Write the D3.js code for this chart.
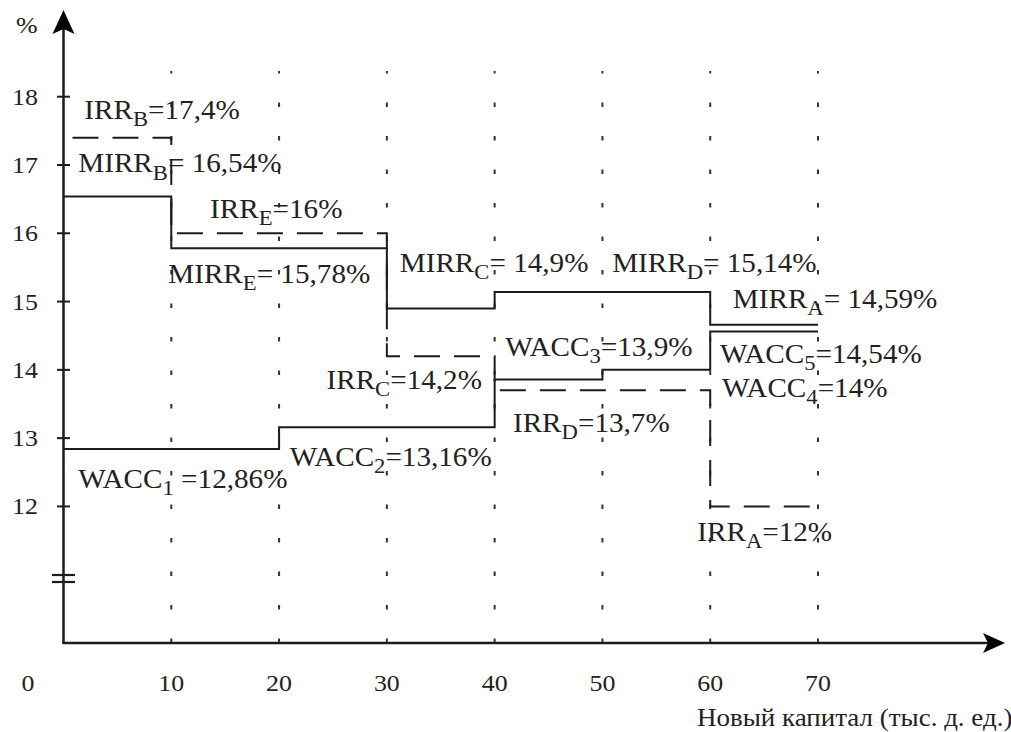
<!DOCTYPE html>
<html><head><meta charset="utf-8">
<script src="https://cdn.jsdelivr.net/npm/d3@7"></script>
<style>
body{margin:0;background:#fff}
svg{display:block}
text{font-family:"Liberation Serif","Times New Roman",serif;fill:#222;white-space:pre}
</style>
</head><body>
<svg id="c" width="1011" height="732"></svg>
<script>
// ---- data ----
const xTicks = [0,10,20,30,40,50,60,70];
const yTicks = [12,13,14,15,16,17,18];
const irrX = [0,10,30,40,60,70];
const irrValues = [17.4,16,14.2,13.7,12,12];
const mirrX = [0,10,30,40,60,70];
const mirrValues = [16.54,15.78,14.9,15.14,14.66,14.66];
const waccX = [0,20,40,50,60,70];
const waccValues = [12.84,13.16,13.86,14,14.56,14.56];
const labelMain = ["IRR","MIRR","IRR","MIRR","MIRR","MIRR","MIRR","WACC","WACC","IRR","WACC","IRR","WACC","WACC","IRR"];
const labelSub  = ["B","B","E","E","C","D","A","3","5","C","4","D","2","1","A"];
const labelRest = ["=17,4%","= 16,54%","=16%","= 15,78%","= 14,9%","= 15,14%","= 14,59%","=13,9%","=14,54%","=14,2%","=14%","=13,7%","=13,16%"," =12,86%","=12%"];
const labelAtX  = [1.93,1.37,13.6,9.72,31.2,50.9,62.1,40.98,60.9,24.4,61.1,41.7,21.0,1.37,58.8];
const labelAtY  = [17.68,16.89,16.22,15.27,15.43,15.43,14.9,14.21,14.1,13.72,13.6,13.09,12.59,12.27,11.49];
const yTitle = "%";
const xTitle = "Новый капитал (тыс. д. ед.)";

// ---- drawing ----
const svg = d3.select("#c");
const ink = "#1c1c1c";
const sx = 1.08;
const x = d3.scaleLinear().domain([0,70]).range([63.5,818]);
const y = d3.scaleLinear().domain([10,18]).range([643,96.7]);

// grid (dotted vertical)
svg.append("g").selectAll("line").data(xTicks.slice(1)).join("line")
  .attr("x1",d=>x(d)).attr("x2",d=>x(d)).attr("y1",y(10)).attr("y2",71)
  .attr("stroke","#333").attr("stroke-width",2).attr("stroke-dasharray","4.5,29");

// axes
svg.append("line").attr("x1",x(0)).attr("x2",x(0)).attr("y1",y(10)+1).attr("y2",28)
  .attr("stroke",ink).attr("stroke-width",2.5);
svg.append("line").attr("x1",x(0)-1).attr("x2",990).attr("y1",y(10)).attr("y2",y(10))
  .attr("stroke",ink).attr("stroke-width",2.5);
svg.append("path").attr("d",`M${x(0)},10 L${x(0)+11},34 L${x(0)},29 L${x(0)-11},34 Z`).attr("fill","#000");
svg.append("path").attr("d",`M1005,${y(10)} L983,${y(10)-10} L988,${y(10)} L983,${y(10)+10} Z`).attr("fill","#000");

// y ticks
svg.append("g").selectAll("line").data(yTicks).join("line")
  .attr("x1",57).attr("x2",70).attr("y1",d=>y(d)).attr("y2",d=>y(d))
  .attr("stroke",ink).attr("stroke-width",2);
// axis break
svg.append("g").selectAll("line").data([0,7]).join("line")
  .attr("x1",52).attr("x2",75).attr("y1",d=>575+d).attr("y2",d=>575+d)
  .attr("stroke",ink).attr("stroke-width",2.2);

function txt(px,py,str,size,anchor){
  return svg.append("text").attr("transform",`translate(${px},${py}) scale(${sx},1)`)
    .attr("font-size",size).attr("text-anchor",anchor||"start").text(str);
}
// y tick labels
yTicks.forEach(v=>txt(38,y(v)+8,String(v),24,"end"));
// x tick labels
xTicks.forEach(v=>txt(v===0?28:x(v),691,String(v),24,"middle"));
txt(16,33,yTitle,24,"start");
txt(697,726,xTitle,25,"start");

// step lines
const line = d3.line().x(d=>x(d[0])).y(d=>y(d[1])).curve(d3.curveStepAfter);
svg.append("path").attr("d",line(irrX.map((v,i)=>[v,irrValues[i]])))
  .attr("fill","none").attr("stroke",ink).attr("stroke-width",2)
  .attr("stroke-dasharray","26,14").attr("stroke-dashoffset",31);
svg.append("path").attr("d",line(mirrX.map((v,i)=>[v,mirrValues[i]])))
  .attr("fill","none").attr("stroke",ink).attr("stroke-width",2);
svg.append("path").attr("d",line(waccX.map((v,i)=>[v,waccValues[i]])))
  .attr("fill","none").attr("stroke",ink).attr("stroke-width",2);

// labels
labelMain.forEach((m,i)=>{
  const t = txt(x(labelAtX[i]),y(labelAtY[i]),"",27,"start");
  t.append("tspan").text(m);
  t.append("tspan").attr("font-size",21).attr("dy",7).text(labelSub[i]);
  t.append("tspan").attr("dy",-7).text(labelRest[i]);
});
</script>
</body></html>
